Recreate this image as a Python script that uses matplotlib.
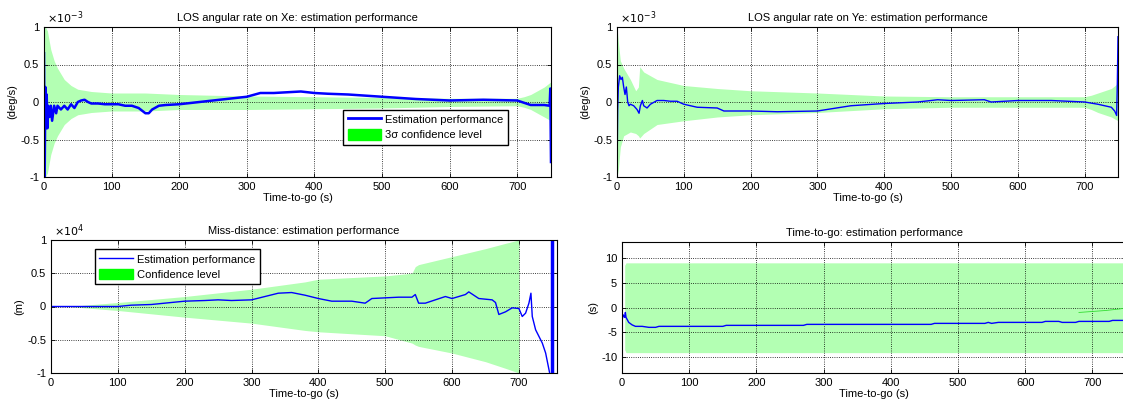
import matplotlib
matplotlib.use("Agg")
import matplotlib.pyplot as plt
from matplotlib.lines import Line2D
from matplotlib.patches import Patch

plt.rcParams['font.family'] = ['Liberation Sans', 'DejaVu Sans']
plt.rcParams['axes.unicode_minus'] = False

# LOS angular rate on Xe (x 1e-3 deg/s)
xe_t = [0, 1, 2, 3, 4, 5, 6, 8, 10, 12, 15, 18, 20, 25, 30, 35, 40, 45, 50, 55,
        60, 65, 70, 80, 90, 100, 110, 120, 130, 140, 150, 155, 160, 170, 180, 200, 220, 250, 280, 300,
        320, 340, 360, 380, 400, 420, 450, 500, 550, 600, 650, 700, 720, 740, 748, 749, 750]
xe_est = [0.65, -1.0, 0.2, -0.35, 0.1, -0.35, -0.05, -0.2, -0.05, -0.25,
          -0.05, -0.15, -0.05, -0.1, -0.05, -0.1, -0.03, -0.08, 0.0, 0.02,
          0.03, 0.0, -0.02, -0.02, -0.03, -0.03, -0.03, -0.05, -0.05, -0.08,
          -0.15, -0.15, -0.1, -0.05, -0.04, -0.03, -0.01, 0.02, 0.05, 0.07,
          0.12, 0.12, 0.13, 0.14, 0.12, 0.11, 0.1, 0.07, 0.04, 0.02,
          0.03, 0.02, -0.04, -0.04, -0.05, 0.18, -0.8]
xe_band_t = [0, 2, 5, 8, 10, 15, 20, 30, 40, 50, 70, 100, 150, 200, 300, 400, 500, 600, 700, 710, 720, 730, 740, 750]
xe_band_hi = [1.0, 1.0, 0.95, 0.8, 0.7, 0.55, 0.45, 0.3, 0.22, 0.17, 0.14, 0.12, 0.12, 0.1, 0.08, 0.07, 0.06, 0.05, 0.05, 0.07, 0.1, 0.15, 0.2, 0.27]
xe_band_lo = [-1.0, -1.0, -0.95, -0.8, -0.7, -0.55, -0.45, -0.3, -0.22, -0.17, -0.14, -0.12, -0.12, -0.1, -0.1, -0.09, -0.08, -0.06, -0.05, -0.07, -0.1, -0.15, -0.2, -0.25]

# LOS angular rate on Ye (x 1e-3 deg/s)
ye_t = [0, 1, 2, 4, 6, 8, 10, 12, 14, 16, 18, 20, 25, 30, 33, 35, 38, 40, 45, 50,
        60, 70, 80, 90, 100, 110, 120, 150, 160, 200, 240, 300, 350, 400, 450, 480, 500, 550, 560, 600,
        650, 700, 720, 740, 745, 748, 749, 750]
ye_est = [-1.0, -0.1, 0.2, 0.35, 0.3, 0.33, 0.2, 0.1, 0.2, 0.0,
          -0.05, -0.03, -0.05, -0.1, -0.15, -0.05, 0.02, -0.05, -0.08, -0.03,
          0.02, 0.02, 0.01, 0.01, -0.03, -0.05, -0.07, -0.08, -0.12, -0.12,
          -0.13, -0.12, -0.05, -0.02, 0.0, 0.03, 0.02, 0.03, 0.0, 0.02,
          0.02, 0.0, -0.03, -0.07, -0.12, -0.18, 0.25, 0.87]
ye_band_t = [0, 2, 5, 10, 20, 28, 32, 34, 40, 60, 100, 150, 200, 300, 400, 500, 600, 700, 710, 720, 740, 750]
ye_band_hi = [1.0, 0.8, 0.55, 0.45, 0.3, 0.15, 0.2, 0.47, 0.4, 0.3, 0.22, 0.18, 0.15, 0.12, 0.08, 0.07, 0.07, 0.07, 0.09, 0.12, 0.18, 0.25]
ye_band_lo = [-1.0, -0.9, -0.6, -0.45, -0.4, -0.42, -0.45, -0.48, -0.42, -0.3, -0.25, -0.2, -0.17, -0.14, -0.09, -0.07, -0.07, -0.07, -0.1, -0.14, -0.2, -0.25]

# Miss-distance (x 1e4 m)
md_t = [0, 30, 100, 120, 150, 180, 200, 230, 250, 270, 300, 320, 340, 360, 380, 400, 420, 450, 470, 480,
        500, 520, 540, 545, 550, 560, 575, 590, 600, 610, 620, 625, 640, 660, 665, 670, 680, 690, 700, 705,
        710, 715, 718, 720, 725, 730, 735, 740, 745, 748]
md_est = [0, 0, 0.0, 0.02, 0.03, 0.06, 0.08, 0.09, 0.1, 0.09,
          0.1, 0.15, 0.2, 0.21, 0.17, 0.12, 0.08, 0.08, 0.05, 0.12,
          0.13, 0.14, 0.14, 0.18, 0.05, 0.05, 0.1, 0.15, 0.12, 0.15,
          0.18, 0.22, 0.12, 0.1, 0.06, -0.12, -0.08, -0.02, -0.03, -0.15,
          -0.1, 0.05, 0.2, -0.15, -0.35, -0.45, -0.55, -0.7, -0.95, -1.1]
md_end_t = [750, 750]
md_end = [-1.2, 1.2]
md_band_t = [0, 30, 50, 100, 200, 300, 380, 400, 500, 540, 545, 550, 600, 650, 680, 700]
md_band_hi = [0, 0, 0.02, 0.06, 0.15, 0.26, 0.37, 0.41, 0.46, 0.5, 0.6, 0.63, 0.75, 0.87, 0.95, 1.0]
md_band_lo = [0, 0, -0.02, -0.06, -0.16, -0.25, -0.36, -0.38, -0.44, -0.55, -0.58, -0.6, -0.7, -0.83, -0.93, -1.0]

# Time-to-go (s)
tg_t = [0, 2, 4, 5, 6, 8, 10, 15, 20, 30, 40, 50, 55, 150, 155, 270, 275, 460, 465, 540,
        545, 550, 560, 625, 630, 650, 655, 675, 680, 725, 730, 750]
tg_est = [-2.5, -1.5, -2.0, -1.0, -2.0, -2.5, -3.0, -3.5, -3.8, -3.8,
          -4.0, -4.0, -3.8, -3.8, -3.6, -3.6, -3.4, -3.4, -3.2, -3.2,
          -3.0, -3.2, -3.0, -3.0, -2.8, -2.8, -3.0, -3.0, -2.8, -2.8, -2.6, -2.6]
tg_band_t = [4, 6, 750]
tg_band_hi = [8.5, 9.0, 9.0]
tg_band_lo = [-8.5, -9.1, -9.1]
tg_green_t = [680, 700, 720, 740, 750]
tg_green = [-1.0, -0.8, -0.6, -0.3, -0.1]

BLUE = '#0000ff'
BAND = '#b3ffb3'
W, H = 1123, 407
FS = 8

fig = plt.figure(figsize=(W / 100, H / 100), dpi=100)


def add_ax(l, r, t, b):
    return fig.add_axes([l / W, 1 - b / H, (r - l) / W, (b - t) / H])


def style(ax, title, ylabel, ylim, yticks, xmax=750):
    ax.set_xlim(0, xmax)
    ax.set_ylim(*ylim)
    ax.set_xticks(range(0, 800, 100))
    ax.set_yticks(yticks)
    ax.set_yticklabels(['%g' % v for v in yticks])
    ax.grid(True, ls=':', color='k', lw=0.6)
    ax.tick_params(direction='in', top=True, right=True, labelsize=FS, length=3, width=0.6)
    for s in ax.spines.values():
        s.set_linewidth(0.8)
    ax.set_title(title, fontsize=FS, pad=4)
    ax.set_xlabel('Time-to-go (s)', fontsize=FS, labelpad=1)
    ax.set_ylabel(ylabel, fontsize=FS, labelpad=2)


def legend(ax, handles, labels, anchor):
    ax.legend(handles, labels, loc='upper left', bbox_to_anchor=anchor, fontsize=8,
              fancybox=False, edgecolor='k', framealpha=1, handlelength=3.0,
              handleheight=1.1, handletextpad=0.4, borderpad=0.4, labelspacing=0.35,
              borderaxespad=0)


# top left
ax1 = add_ax(44, 551, 27, 177)
ax1.fill_between(xe_band_t, xe_band_lo, xe_band_hi, color=BAND, lw=0)
ax1.plot(xe_t, xe_est, color=BLUE, lw=1.8)
style(ax1, 'LOS angular rate on Xe: estimation performance', '(deg/s)', (-1, 1), [-1, -0.5, 0, 0.5, 1])
ax1.text(0.005, 1.01, r'$\times10^{-3}$', transform=ax1.transAxes, fontsize=FS, va='bottom')
legend(ax1, [Line2D([], [], color=BLUE, lw=2), Patch(color='#00ff00')],
       ['Estimation performance', '3σ confidence level'], (0.59, 0.45))

# top right
ax2 = add_ax(617, 1118, 27, 177)
ax2.fill_between(ye_band_t, ye_band_lo, ye_band_hi, color=BAND, lw=0)
ax2.plot(ye_t, ye_est, color=BLUE, lw=1.0)
style(ax2, 'LOS angular rate on Ye: estimation performance', '(deg/s)', (-1, 1), [-1, -0.5, 0, 0.5, 1])
ax2.text(0.005, 1.01, r'$\times10^{-3}$', transform=ax2.transAxes, fontsize=FS, va='bottom')

# bottom left
ax3 = add_ax(51, 557, 240, 373)
ax3.fill_between(md_band_t, md_band_lo, md_band_hi, color=BAND, lw=0)
ax3.plot(md_t, md_est, color=BLUE, lw=1.0)
ax3.plot(md_end_t, md_end, color=BLUE, lw=2.5)
style(ax3, 'Miss-distance: estimation performance', '(m)', (-1, 1), [-1, -0.5, 0, 0.5, 1], xmax=757)
ax3.text(0.005, 1.01, r'$\times10^{4}$', transform=ax3.transAxes, fontsize=FS, va='bottom')
legend(ax3, [Line2D([], [], color=BLUE, lw=1), Patch(color='#00ff00')],
       ['Estimation performance', 'Confidence level'], (0.087, 0.93))

# bottom right
ax4 = add_ax(622, 1126, 242, 373)
ax4.fill_between(tg_band_t, tg_band_lo, tg_band_hi, color=BAND, lw=0)
ax4.plot(tg_green_t, tg_green, color='#33dd33', lw=0.6)
ax4.plot(tg_t, tg_est, color=BLUE, lw=1.0)
style(ax4, 'Time-to-go: estimation performance', '(s)', (-13.2, 13.2), [-10, -5, 0, 5, 10])

fig.savefig('out.png', dpi=100)
